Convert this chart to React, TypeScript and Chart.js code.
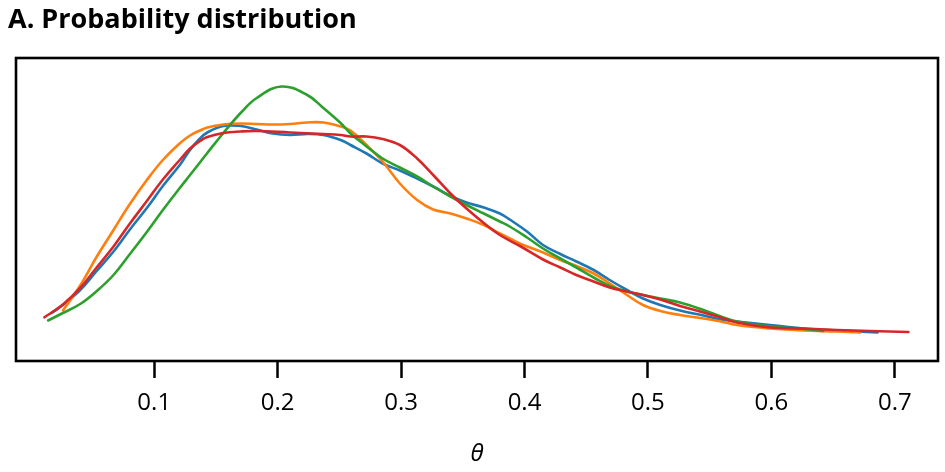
import { useEffect, useRef } from "react";
import { Chart, registerables } from "chart.js";

Chart.register(...registerables);

const TITLE = "A. Probability distribution";
const X_LABEL = "θ";
const X_TICKS = [0.1, 0.2, 0.3, 0.4, 0.5, 0.6, 0.7];

const blueTheta = [0.017, 0.026, 0.040, 0.053, 0.067, 0.080, 0.094, 0.107, 0.121, 0.129, 0.137, 0.143, 0.156, 0.170, 0.183, 0.196, 0.210, 0.224, 0.237, 0.251, 0.259, 0.272, 0.285, 0.299, 0.313, 0.326, 0.340, 0.353, 0.367, 0.380, 0.388, 0.402, 0.415, 0.429, 0.442, 0.456, 0.469, 0.483, 0.496, 0.510, 0.526, 0.545, 0.559, 0.572, 0.599, 0.626, 0.653, 0.686];
const blueDensity = [0.96, 1.12, 1.42, 1.79, 2.19, 2.62, 3.06, 3.50, 3.93, 4.22, 4.45, 4.57, 4.70, 4.70, 4.63, 4.55, 4.52, 4.54, 4.52, 4.42, 4.32, 4.15, 3.95, 3.81, 3.65, 3.49, 3.30, 3.17, 3.07, 2.95, 2.83, 2.59, 2.32, 2.14, 1.99, 1.82, 1.62, 1.42, 1.25, 1.12, 1.01, 0.91, 0.83, 0.79, 0.72, 0.65, 0.61, 0.57];

const orangeTheta = [0.026, 0.040, 0.053, 0.067, 0.080, 0.094, 0.107, 0.121, 0.129, 0.137, 0.143, 0.156, 0.170, 0.183, 0.196, 0.210, 0.224, 0.237, 0.251, 0.259, 0.272, 0.285, 0.299, 0.313, 0.326, 0.340, 0.353, 0.367, 0.380, 0.388, 0.397, 0.415, 0.429, 0.442, 0.456, 0.469, 0.483, 0.496, 0.510, 0.526, 0.545, 0.559, 0.572, 0.599, 0.626, 0.653, 0.672];
const orangeDensity = [1.01, 1.51, 2.07, 2.62, 3.13, 3.62, 4.02, 4.36, 4.51, 4.61, 4.67, 4.73, 4.75, 4.74, 4.73, 4.74, 4.77, 4.77, 4.69, 4.61, 4.32, 3.99, 3.55, 3.22, 3.03, 2.95, 2.85, 2.72, 2.55, 2.45, 2.34, 2.17, 2.02, 1.90, 1.75, 1.55, 1.32, 1.12, 1.00, 0.92, 0.85, 0.79, 0.72, 0.65, 0.61, 0.59, 0.57];

const greenTheta = [0.014, 0.026, 0.040, 0.053, 0.067, 0.080, 0.094, 0.107, 0.121, 0.129, 0.137, 0.143, 0.156, 0.170, 0.183, 0.203, 0.224, 0.237, 0.251, 0.259, 0.267, 0.272, 0.285, 0.299, 0.313, 0.326, 0.340, 0.353, 0.367, 0.380, 0.388, 0.402, 0.415, 0.429, 0.442, 0.456, 0.469, 0.483, 0.496, 0.510, 0.526, 0.545, 0.559, 0.572, 0.599, 0.626, 0.642];
const greenDensity = [0.81, 0.96, 1.14, 1.39, 1.72, 2.13, 2.58, 3.02, 3.47, 3.72, 3.97, 4.16, 4.56, 4.96, 5.26, 5.49, 5.32, 5.06, 4.76, 4.55, 4.39, 4.29, 4.05, 3.87, 3.69, 3.49, 3.29, 3.12, 2.95, 2.79, 2.69, 2.47, 2.25, 2.05, 1.87, 1.67, 1.50, 1.39, 1.32, 1.25, 1.17, 1.02, 0.89, 0.79, 0.69, 0.64, 0.60];

const redTheta = [0.011, 0.026, 0.040, 0.053, 0.067, 0.080, 0.094, 0.107, 0.121, 0.129, 0.137, 0.143, 0.156, 0.170, 0.183, 0.210, 0.237, 0.251, 0.259, 0.272, 0.285, 0.299, 0.313, 0.326, 0.340, 0.353, 0.367, 0.380, 0.397, 0.415, 0.429, 0.442, 0.456, 0.469, 0.483, 0.496, 0.510, 0.526, 0.545, 0.559, 0.572, 0.599, 0.626, 0.653, 0.680, 0.711];
const redDensity = [0.874, 1.13, 1.46, 1.86, 2.29, 2.74, 3.20, 3.63, 4.03, 4.25, 4.40, 4.48, 4.56, 4.59, 4.60, 4.57, 4.54, 4.52, 4.49, 4.49, 4.44, 4.32, 4.05, 3.72, 3.35, 3.05, 2.76, 2.52, 2.29, 2.03, 1.87, 1.72, 1.59, 1.47, 1.39, 1.32, 1.23, 1.10, 0.97, 0.87, 0.77, 0.67, 0.65, 0.62, 0.60, 0.58];

const zip = (xs: number[], ys: number[]) =>
  xs.slice(0, Math.min(xs.length, ys.length)).map((x, i) => ({ x, y: ys[i] }));

const framePlugin = {
  id: "frame",
  afterDatasetsDraw(chart: any) {
    const { ctx, chartArea } = chart;
    ctx.save();
    ctx.strokeStyle = "#000";
    ctx.lineWidth = 2.6;
    ctx.strokeRect(chartArea.left, chartArea.top, chartArea.right - chartArea.left, chartArea.bottom - chartArea.top);
    ctx.restore();
  },
};

export default function App() {
  const ref = useRef<HTMLCanvasElement | null>(null);

  useEffect(() => {
    document.body.style.margin = "0";
    if (!ref.current) return;
    const mk = (label: string, color: string, xs: number[], ys: number[], order: number) => ({
      label,
      data: zip(xs, ys),
      borderColor: color,
      backgroundColor: color,
      borderWidth: 2.6,
      pointRadius: 0,
      fill: false,
      tension: 0.4,
      borderCapStyle: "round" as const,
      borderJoinStyle: "round" as const,
      order,
    });
    const chart = new Chart(ref.current, {
      type: "line",
      data: {
        datasets: [
          mk("chain 1", "#1f77b4", blueTheta, blueDensity, 4),
          mk("chain 2", "#ff7f0e", orangeTheta, orangeDensity, 3),
          mk("chain 3", "#2ca02c", greenTheta, greenDensity, 2),
          mk("chain 4", "#d62728", redTheta, redDensity, 1),
        ],
      },
      options: {
        animation: false,
        responsive: true,
        maintainAspectRatio: false,
        layout: { padding: { left: 8, right: 7, top: 0, bottom: 0 } },
        plugins: {
          legend: { display: false },
          tooltip: { enabled: false },
          title: {
            display: true,
            text: TITLE,
            align: "start",
            color: "#000",
            font: { family: "Open Sans", size: 27, weight: "bold", lineHeight: 1.2 },
            padding: { top: 4.5, bottom: 21.1 },
          },
        },
        scales: {
          x: {
            type: "linear",
            min: -0.012,
            max: 0.735,
            afterBuildTicks: (scale: any) => {
              scale.ticks = X_TICKS.map((v) => ({ value: v }));
            },
            afterFit: (scale: any) => {
              scale.height = 111;
            },
            grid: {
              display: true,
              drawOnChartArea: false,
              drawTicks: true,
              tickLength: 17,
              tickWidth: 2.5,
              tickColor: "#000",
            },
            border: { display: false },
            ticks: {
              color: "#000",
              padding: 10.5,
              maxRotation: 0,
              autoSkip: false,
              font: { family: "Open Sans", size: 24 },
              callback: (v: any) => Number(v).toFixed(1),
            },
            title: {
              display: true,
              text: X_LABEL,
              color: "#000",
              font: { family: "Open Sans", size: 24, style: "italic" },
              padding: { top: 0, bottom: 3 },
            },
          },
          y: {
            type: "linear",
            min: 0,
            max: 6.06,
            afterFit: (scale: any) => {
              scale.width = 8;
            },
            grid: { display: false },
            border: { display: false },
            ticks: { display: false },
          },
        },
      },
      plugins: [framePlugin],
    });
    return () => chart.destroy();
  }, []);

  return (
    <div style={{ position: "absolute", left: 0, top: 0, width: 945, height: 472 }}>
      <canvas ref={ref} />
    </div>
  );
}
